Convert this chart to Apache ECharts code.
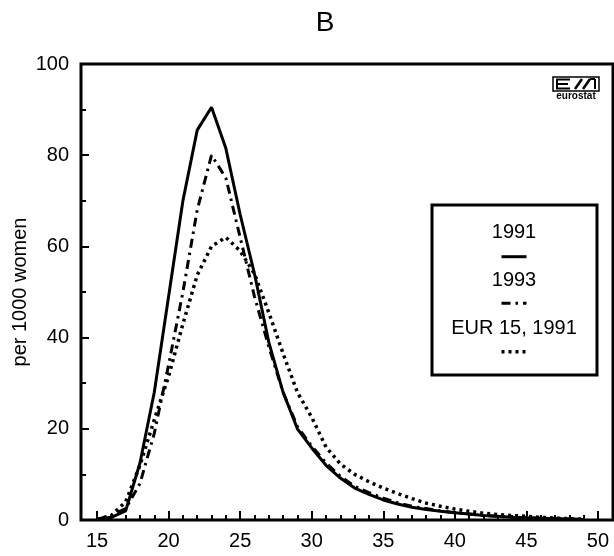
<!DOCTYPE html>
<html>
<head>
<meta charset="utf-8">
<title>B</title>
<script src="https://cdn.jsdelivr.net/npm/echarts@6/dist/echarts.min.js"></script>
<style>
  html, body { margin: 0; padding: 0; background: #fff; }
  #chart { width: 614px; height: 556px; }
</style>
</head>
<body>
<div id="chart"></div>
<script>
// Age-specific fertility rates, births per 1000 women by age of mother
const ages = [15, 16, 17, 18, 19, 20, 21, 22, 23, 24, 25, 26, 27, 28, 29, 30, 31, 32,
              33, 34, 35, 36, 37, 38, 39, 40, 41, 42, 43, 44, 45, 46, 47, 48, 49];

const rates1991 = [0.2, 0.6, 2.0, 12.5, 28, 49, 70, 85.5, 90.5, 81.5, 67, 54, 39, 28, 20, 15.8, 12, 9.2,
                   7, 5.6, 4.4, 3.5, 2.8, 2.3, 1.9, 1.6, 1.3, 1.0, 0.8, 0.6, 0.5, 0.4, 0.3, 0.2, 0.1];

const rates1993 = [0.1, 1.0, 2.5, 8, 19, 34, 50, 68, 80, 75, 62, 49, 38, 28, 20.5, 16.2, 12.5, 9.6,
                   7.4, 6, 4.8, 3.8, 3, 2.5, 2, 1.6, 1.3, 1.0, 0.8, 0.6, 0.5, 0.4, 0.3, 0.2, 0.1];

const ratesEur15 = [0.2, 1.0, 4, 12, 22, 31.5, 43, 53.7, 60, 62, 59, 54, 45.5, 36.5, 28, 22.5, 16, 12.3,
                    10, 8.4, 7, 5.8, 4.7, 3.7, 3.0, 2.4, 1.9, 1.5, 1.2, 1.0, 0.8, 0.6, 0.4, 0.3, 0.2];

const seriesNames = ['1991', '1993', 'EUR 15, 1991'];
const ageTickLabels = [15, 20, 25, 30, 35, 40, 45, 50];
const ageMinorTicks = [15, 16, 17, 18, 19, 20, 21, 22, 23, 24, 25, 26, 27, 28, 29, 30, 31, 32,
                       33, 34, 35, 36, 37, 38, 39, 40, 41, 42, 43, 44, 45, 46, 47, 48, 49, 50];
const chartTitle = 'B';
const yAxisTitle = 'per 1000 women';

const FONT = '"Liberation Sans", Arial, sans-serif';
const INK = '#000';

// line styles shared by the series and the key
const styles = [
  { width: 3, type: 'solid' },
  { width: 3, type: [9, 5, 2.5, 5] },
  { width: 3.5, type: [3, 4] }
];

const pairs = vals => ages.map((a, i) => [a, vals[i]]);
const seriesData = [rates1991, rates1993, ratesEur15];

const chart = echarts.init(document.getElementById('chart'), null, { renderer: 'canvas' });

const xBase = {
  type: 'value',
  min: 13.88,
  max: 51.05,
  position: 'bottom',
  axisLine: { show: false },
  splitLine: { show: false }
};

// key box: year labels stacked above a sample of each line style
const keyX = 514;
const keyRows = [232.7, 280, 328.3];
const keySamples = [256.7, 303.3, 351.7];
const keyGraphics = [{
  type: 'rect',
  shape: { x: 432, y: 205, width: 165, height: 170 },
  style: { fill: '#fff', stroke: INK, lineWidth: 3 },
  z: 10
}];
seriesNames.forEach((name, i) => {
  keyGraphics.push({
    type: 'text',
    style: { x: keyX, y: keyRows[i], text: name, fill: INK, font: '20px ' + FONT,
             align: 'center', verticalAlign: 'middle' },
    z: 11
  });
  keyGraphics.push({
    type: 'line',
    shape: { x1: keyX - 12.5, y1: keySamples[i], x2: keyX + 12.5, y2: keySamples[i] },
    style: { stroke: INK, lineWidth: styles[i].width,
             lineDash: styles[i].type === 'solid' ? null : styles[i].type },
    z: 11
  });
});

// eurostat mark in the top right corner
const logo = {
  type: 'group',
  x: 553,
  y: 77,
  z: 12,
  children: [
    { type: 'rect', shape: { x: 0, y: 0, width: 46, height: 14 },
      style: { fill: '#fff', stroke: INK, lineWidth: 1.5 } },
    { type: 'polyline', shape: { points: [[17, 2.5], [4, 2.5], [4, 11.5], [17, 11.5]] },
      style: { fill: null, stroke: INK, lineWidth: 2 } },
    { type: 'line', shape: { x1: 4, y1: 7, x2: 15, y2: 7 },
      style: { stroke: INK, lineWidth: 2 } },
    { type: 'line', shape: { x1: 22, y1: 12, x2: 29, y2: 2 },
      style: { stroke: INK, lineWidth: 2.5 } },
    { type: 'line', shape: { x1: 30, y1: 12, x2: 37, y2: 2 },
      style: { stroke: INK, lineWidth: 2.5 } },
    { type: 'line', shape: { x1: 37, y1: 2, x2: 42, y2: 2 },
      style: { stroke: INK, lineWidth: 2 } },
    { type: 'line', shape: { x1: 42, y1: 2, x2: 42, y2: 12 },
      style: { stroke: INK, lineWidth: 2 } },
    { type: 'text', style: { x: 23, y: 19, text: 'eurostat', fill: INK,
      font: 'bold 10px ' + FONT, align: 'center', verticalAlign: 'middle' } }
  ]
};

chart.setOption({
  animation: false,
  backgroundColor: '#fff',
  textStyle: { fontFamily: FONT, color: INK },
  grid: {
    left: 81, right: 1, top: 64, bottom: 36,
    outerBoundsMode: 'none',
    containLabel: false,
    show: true, borderColor: INK, borderWidth: 3, backgroundColor: 'transparent'
  },
  xAxis: [
    Object.assign({}, xBase, {
      axisTick: { show: true, inside: true, length: 9, customValues: ageTickLabels,
                  lineStyle: { color: INK, width: 2 } },
      axisLabel: { show: true, customValues: ageTickLabels, fontSize: 20, color: INK,
                   fontFamily: FONT, margin: 11 }
    }),
    Object.assign({}, xBase, {
      axisTick: { show: true, inside: true, length: 5, customValues: ageMinorTicks,
                  lineStyle: { color: INK, width: 2 } },
      axisLabel: { show: false }
    })
  ],
  yAxis: {
    type: 'value',
    min: 0,
    max: 100,
    interval: 20,
    axisLine: { show: false },
    splitLine: { show: false },
    axisTick: { show: true, inside: true, length: 8, lineStyle: { color: INK, width: 2 } },
    minorTick: { show: true, splitNumber: 2, length: 5, lineStyle: { color: INK, width: 2 } },
    minorSplitLine: { show: false },
    axisLabel: { fontSize: 20, color: INK, fontFamily: FONT, margin: 12 },
    name: yAxisTitle,
    nameLocation: 'middle',
    nameRotate: 90,
    nameGap: 51,
    nameMoveOverlap: false,
    nameTextStyle: { fontSize: 20, color: INK, fontFamily: FONT }
  },
  series: seriesNames.map((name, i) => ({
    name: name,
    type: 'line',
    xAxisIndex: 0,
    data: pairs(seriesData[i]),
    showSymbol: false,
    symbol: 'none',
    lineStyle: { color: INK, width: styles[i].width, type: styles[i].type },
    z: 3
  })),
  graphic: [
    { type: 'text', style: { x: 325, y: 23, text: chartTitle, fill: INK, font: '28px ' + FONT,
      align: 'center', verticalAlign: 'middle' } },
    logo
  ].concat(keyGraphics)
});
</script>
</body>
</html>
